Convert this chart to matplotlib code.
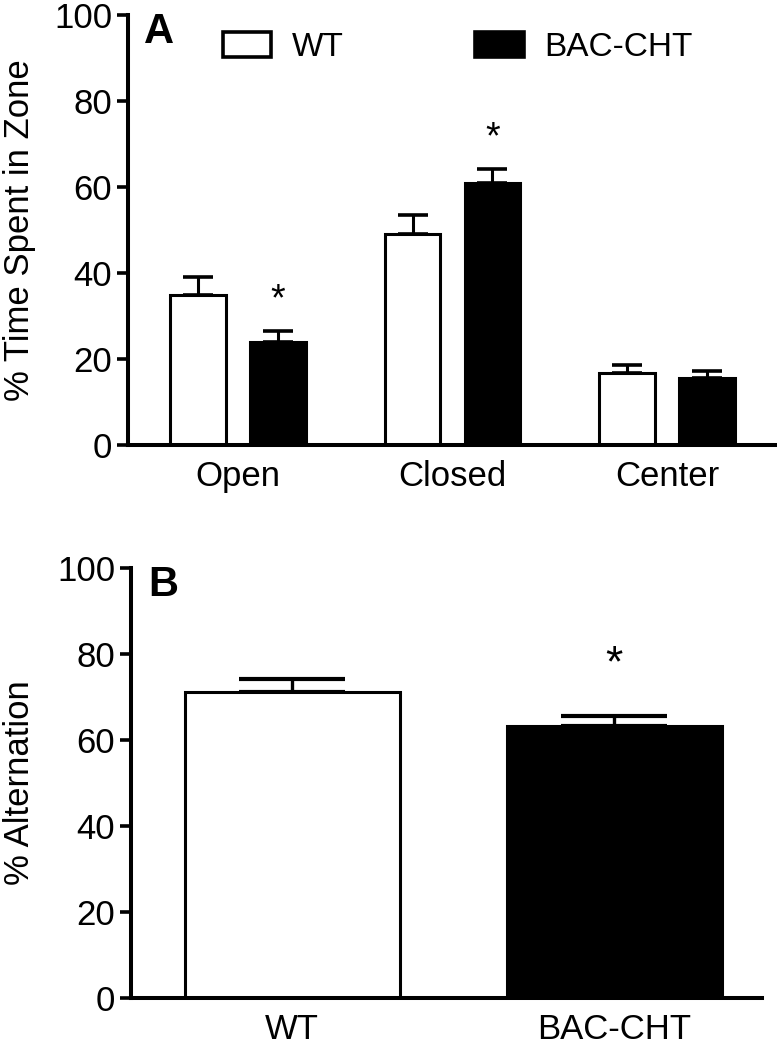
import numpy as np
import matplotlib.pyplot as plt

plt.rcParams['font.family'] = ['Liberation Sans', 'DejaVu Sans']

# panel A data
zones = ['Open', 'Closed', 'Center']
wt_mean = [35, 49, 16.7]
wt_sem = [4, 4.5, 2]
cht_mean = [24, 61, 15.6]
cht_sem = [2.5, 3.2, 1.7]
cht_star = [True, True, False]

# panel B data
groups = ['WT', 'BAC-CHT']
alt_mean = [71.2, 63.3]
alt_sem = [3, 2.3]
alt_star = [False, True]

fig = plt.figure(figsize=(7.77, 10.5), dpi=100)

"""Panel A"""
axA = fig.add_axes([0.165, 0.576, 0.832, 0.41])
x = np.arange(len(zones))
w = 0.26
off = 0.186
axA.bar(x - off, wt_mean, w, color='white', edgecolor='black', linewidth=2.2, label='WT', zorder=2)
axA.bar(x + off, cht_mean, w, color='black', edgecolor='black', linewidth=2.2, label='BAC-CHT', zorder=2)
axA.errorbar(x - off, wt_mean, yerr=[np.zeros(3), wt_sem], fmt='none', ecolor='black',
             elinewidth=2.2, capsize=11, capthick=2.6, zorder=1)
axA.errorbar(x + off, cht_mean, yerr=[np.zeros(3), cht_sem], fmt='none', ecolor='black',
             elinewidth=2.2, capsize=11, capthick=2.6, zorder=1)
for i in range(len(zones)):
    if cht_star[i]:
        axA.text(x[i] + off, cht_mean[i] + cht_sem[i] + 3, '*', ha='center', va='bottom', fontsize=27)

axA.set_xlim(-0.51, 2.5)
axA.set_ylim(0, 100)
axA.set_yticks([0, 20, 40, 60, 80, 100])
axA.set_xticks(x)
axA.set_xticklabels(zones, fontsize=25)
axA.set_ylabel('% Time Spent in Zone', fontsize=25)
axA.yaxis.set_label_coords(-0.142, 0.5)
axA.tick_params(axis='y', labelsize=25, length=8, width=2.6, direction='out')
axA.tick_params(axis='x', length=0, pad=11)
for s in ['top', 'right']:
    axA.spines[s].set_visible(False)
for s in ['left', 'bottom']:
    axA.spines[s].set_linewidth(2.9)
axA.text(0.024, 1.007, 'A', transform=axA.transAxes, fontsize=30, fontweight='bold', va='top')
leg = axA.legend(loc='upper left', bbox_to_anchor=(0.1, 1.03), ncol=2, frameon=False,
                 fontsize=24, handlelength=1.45, handleheight=0.78, columnspacing=3.95,
                 handletextpad=0.62)
for h in leg.legend_handles:
    h.set_linewidth(2.6)

"""Panel B"""
axB = fig.add_axes([0.169, 0.0495, 0.812, 0.41])
xb = np.arange(len(groups))
colors = ['white', 'black']
axB.bar(xb, alt_mean, 0.667, color=colors, edgecolor='black', linewidth=2.2, zorder=2)
axB.errorbar(xb, alt_mean, yerr=[np.zeros(2), alt_sem], fmt='none', ecolor='black',
             elinewidth=2.4, capsize=38, capthick=3, zorder=1)
for i in range(len(groups)):
    if alt_star[i]:
        axB.text(xb[i], alt_mean[i] + alt_sem[i] + 7, '*', ha='center', va='bottom', fontsize=32)
axB.set_xlim(-0.5, 1.46)
axB.set_ylim(0, 100)
axB.set_yticks([0, 20, 40, 60, 80, 100])
axB.set_xticks(xb)
axB.set_xticklabels(groups, fontsize=25)
axB.set_ylabel('% Alternation', fontsize=25)
axB.yaxis.set_label_coords(-0.151, 0.5)
axB.tick_params(axis='y', labelsize=25, length=8, width=2.6, direction='out')
axB.tick_params(axis='x', length=0, pad=11)
for s in ['top', 'right']:
    axB.spines[s].set_visible(False)
for s in ['left', 'bottom']:
    axB.spines[s].set_linewidth(2.9)
axB.text(0.027, 1.005, 'B', transform=axB.transAxes, fontsize=30, fontweight='bold', va='top')

fig.savefig('out.png', dpi=100)
